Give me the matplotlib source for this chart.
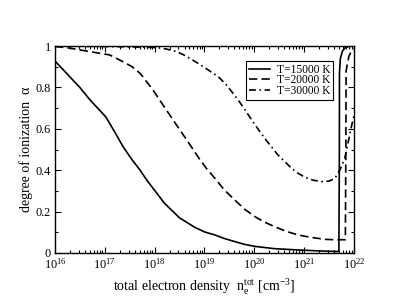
import matplotlib
matplotlib.use("Agg")
import matplotlib.pyplot as plt
import numpy as np
from matplotlib.ticker import MultipleLocator, LogLocator

plt.rcParams["font.family"] = "Liberation Serif"
plt.rcParams["mathtext.fontset"] = "custom"
plt.rcParams["mathtext.rm"] = "Liberation Serif"
plt.rcParams["mathtext.it"] = "Liberation Serif:italic"
plt.rcParams["lines.scale_dashes"] = False

# log10 of total electron density and degree of ionization
logn_15 = [16.0, 16.5, 16.7, 17.02, 17.2, 17.37, 17.55, 17.71, 17.85, 17.97,
           18.2, 18.5, 18.8, 19.0, 19.21, 19.4, 19.61, 19.8, 20.01, 20.4,
           20.88, 21.3, 21.70, 21.71, 21.712, 21.73, 21.77, 21.83, 21.92, 22.0]
alpha_15 = [0.928, 0.80, 0.741, 0.658, 0.585, 0.513, 0.45, 0.40, 0.35, 0.3125,
            0.24, 0.17, 0.125, 0.102, 0.087, 0.07, 0.055, 0.042, 0.032, 0.021,
            0.0145, 0.01, 0.007, 0.5, 0.87, 0.94, 0.975, 0.993, 1.0, 1.0]

logn_20 = [16.0, 16.3, 16.7, 17.1, 17.37, 17.55, 17.71, 17.85, 17.97, 18.1,
           18.24, 18.38, 18.51, 18.65, 18.78, 18.9, 19.04, 19.21, 19.4, 19.61,
           19.8, 20.01, 20.2, 20.41, 20.65, 20.88, 21.15, 21.42, 21.6, 21.83,
           21.84, 21.845, 21.9, 21.95, 22.0]
alpha_20 = [0.998, 0.99, 0.973, 0.957, 0.924, 0.90, 0.868, 0.825, 0.787, 0.74,
            0.69, 0.64, 0.594, 0.545, 0.498, 0.455, 0.409, 0.361, 0.305, 0.256,
            0.213, 0.176, 0.15, 0.127, 0.104, 0.087, 0.075, 0.066, 0.064, 0.064,
            0.5, 0.88, 0.95, 0.975, 0.985]

logn_30 = [16.0, 16.5, 17.0, 17.5, 18.04, 18.25, 18.44, 18.58, 18.71, 18.85,
           18.98, 19.13, 19.28, 19.45, 19.68, 19.82, 19.95, 20.08, 20.21, 20.35,
           20.48, 20.62, 20.75, 20.88, 21.02, 21.18, 21.35, 21.5, 21.62, 21.72,
           21.82, 21.9, 21.96, 22.0]
alpha_30 = [1.0, 0.999, 0.998, 0.996, 0.993, 0.985, 0.973, 0.958, 0.94, 0.92,
            0.90, 0.876, 0.852, 0.81, 0.739, 0.69, 0.643, 0.598, 0.554, 0.512,
            0.473, 0.44, 0.409, 0.385, 0.366, 0.352, 0.345, 0.347, 0.361, 0.40,
            0.46, 0.55, 0.62, 0.66]

labels = ["T=15000 K", "T=20000 K", "T=30000 K"]

fig = plt.figure(figsize=(3.98, 3.07), dpi=100)
ax = fig.add_axes([0.138, 0.176, 0.751, 0.674])

lw = 1.2
ax.plot(10 ** np.array(logn_15), alpha_15, color="black", lw=lw, label=labels[0])
ax.plot(10 ** np.array(logn_20), alpha_20, color="black", lw=lw, dashes=(6, 3),
        label=labels[1])
ax.plot(10 ** np.array(logn_30), alpha_30, color="black", lw=lw,
        dashes=(5, 2.5, 1.2, 2.5), label=labels[2])

ax.set_xscale("log")
ax.set_xlim(1e16, 1e22)
ax.set_ylim(0, 1)
ax.xaxis.set_major_locator(LogLocator(base=10, numticks=10))
ax.xaxis.set_minor_locator(LogLocator(base=10, subs=np.arange(2, 10), numticks=20))
ax.yaxis.set_major_locator(MultipleLocator(0.2))
ax.yaxis.set_minor_locator(MultipleLocator(0.1))
ax.yaxis.set_major_formatter(plt.FuncFormatter(lambda v, p: "%g" % v))

ax.tick_params(which="both", direction="in", top=True, right=True, labelsize=8.8)
ax.tick_params(which="major", length=4, width=0.8, pad=3)
ax.tick_params(which="minor", length=2.2, width=0.8)
for s in ax.spines.values():
    s.set_linewidth(1.0)

ax.set_xlabel(r"total electron density  $\mathrm{n}_\mathrm{e}^{\mathrm{tot}}$ [cm$^{-3}$]",
              fontsize=10, labelpad=4)
ax.set_ylabel("degree of ionization  α", fontsize=10, labelpad=2)

leg = ax.legend(loc="upper right", bbox_to_anchor=(0.931, 0.928), fontsize=8.3,
                fancybox=False, framealpha=1, edgecolor="black", handlelength=1.85,
                borderpad=0.25, labelspacing=-0.12, handletextpad=0.55,
                borderaxespad=0)
leg.get_frame().set_linewidth(0.8)

fig.savefig("out.png", dpi=100)
